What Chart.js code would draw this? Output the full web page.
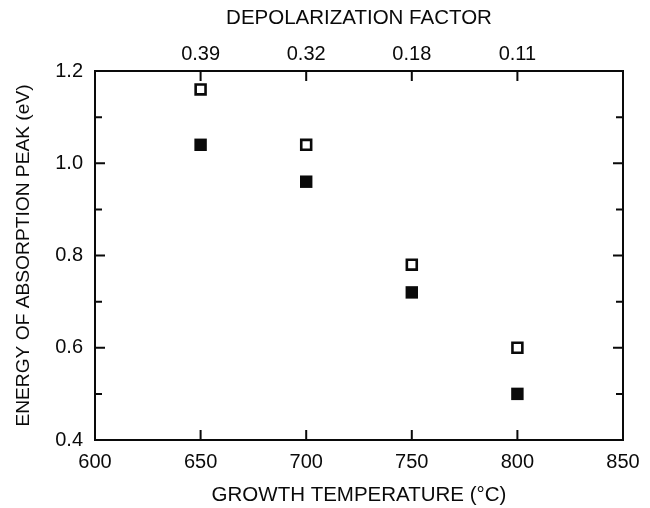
<!DOCTYPE html>
<html>
<head>
<meta charset="utf-8">
<script src="https://cdn.jsdelivr.net/npm/chart.js@4.4.1/dist/chart.umd.min.js"></script>
<style>
	body { margin: 0; background: #fff; }
	#wrap { width: 650px; height: 508px; position: relative; }
</style>
</head>
<body>
<div id="wrap"><canvas id="chart"></canvas></div>
<script>
'use strict'

// growth temperatures (°C)
const temps = [650, 700, 750, 800];
// open squares / filled squares (eV)
const openPeak = [1.16, 1.04, 0.78, 0.60];
const filledPeak = [1.04, 0.96, 0.72, 0.50];
// depolarization factor shown on top axis at each temperature
const depolLabels = ['0.39', '0.32', '0.18', '0.11'];

const fontFamily = "'Liberation Sans', Arial, Helvetica, sans-serif";
const ink = '#0a0a0a';

let toPoints = (ys) => temps.map((t, i) => ({ x: t, y: ys[i] }));

// frame + inward tick marks
let framePlugin = {
	id: 'frame',
	afterDraw: (chart) => {
		let ctx = chart.ctx;
		let area = chart.chartArea;
		let xs = chart.scales.x;
		let ys = chart.scales.y;
		ctx.save();
		ctx.strokeStyle = ink;
		ctx.lineWidth = 2;
		ctx.strokeRect(area.left, area.top, area.right - area.left, area.bottom - area.top);

		// x ticks, bottom and top
		temps.forEach((t) => {
			let px = xs.getPixelForValue(t);
			ctx.beginPath();
			ctx.moveTo(px, area.bottom);
			ctx.lineTo(px, area.bottom - 10);
			ctx.moveTo(px, area.top);
			ctx.lineTo(px, area.top + 10);
			ctx.stroke();
		});

		// y ticks, majors and minors, both sides
		let yt = ys.ticks.map((t) => t.value);
		yt.forEach((v, i) => {
			let vals = [[v, 10]];
			if (i < yt.length - 1) {
				vals.push([(v + yt[i + 1]) / 2, 7]);
			}
			vals.forEach(([val, len]) => {
				let py = ys.getPixelForValue(val);
				ctx.beginPath();
				ctx.moveTo(area.left, py);
				ctx.lineTo(area.left + len, py);
				ctx.moveTo(area.right, py);
				ctx.lineTo(area.right - len, py);
				ctx.stroke();
			});
		});
		ctx.restore();
	}
};

let tickFont = { family: fontFamily, size: 20 };
let titleFont = { family: fontFamily, size: 20.5 };

new Chart(document.getElementById('chart'), {
	type: 'scatter',
	data: {
		datasets: [
			{
				label: 'open',
				data: toPoints(openPeak),
				pointStyle: 'rect',
				pointRadius: 7,
				pointHoverRadius: 7,
				backgroundColor: '#fff',
				borderColor: ink,
				borderWidth: 2.6,
				pointHoverBorderWidth: 2.6
			},
			{
				label: 'filled',
				data: toPoints(filledPeak),
				pointStyle: 'rect',
				pointRadius: 8.8,
				pointHoverRadius: 8.8,
				backgroundColor: ink,
				borderColor: ink,
				borderWidth: 0,
				pointHoverBorderWidth: 0
			}
		]
	},
	options: {
		responsive: true,
		maintainAspectRatio: false,
		animation: false,
		events: [],
		layout: { padding: { left: 0, right: 27, top: 0, bottom: 0 } },
		plugins: {
			legend: { display: false },
			tooltip: { enabled: false }
		},
		scales: {
			x: {
				type: 'linear',
				position: 'bottom',
				min: 600,
				max: 850,
				afterFit: (scale) => { scale.height = 68; },
				grid: { display: false, drawTicks: false },
				border: { display: false },
				ticks: { stepSize: 50, padding: 10, color: ink, font: tickFont, maxRotation: 0 },
				title: {
					display: true,
					text: 'GROWTH TEMPERATURE (°C)',
					color: ink,
					font: titleFont,
					padding: { top: -2, bottom: 0 }
				}
			},
			xTop: {
				type: 'linear',
				position: 'top',
				min: 600,
				max: 850,
				afterFit: (scale) => { scale.height = 71; },
				afterBuildTicks: (scale) => {
					scale.ticks = temps.map((t) => ({ value: t }));
				},
				grid: { display: false, drawTicks: false },
				border: { display: false },
				ticks: {
					padding: 5,
					color: ink,
					font: tickFont,
					maxRotation: 0,
					callback: (val, idx) => depolLabels[idx]
				},
				title: {
					display: true,
					text: 'DEPOLARIZATION FACTOR',
					color: ink,
					font: titleFont,
					padding: { top: 6, bottom: 0 }
				}
			},
			y: {
				type: 'linear',
				min: 0.4,
				max: 1.2,
				afterFit: (scale) => { scale.width = 95; },
				grid: { display: false, drawTicks: false },
				border: { display: false },
				ticks: {
					stepSize: 0.2,
					padding: 12,
					color: ink,
					font: tickFont,
					callback: (val) => val.toFixed(1)
				},
				title: {
					display: true,
					text: 'ENERGY OF ABSORPTION PEAK (eV)',
					color: ink,
					font: { family: fontFamily, size: 19.2 },
					padding: { top: 12.5, bottom: 0 }
				}
			}
		}
	},
	plugins: [framePlugin]
});
</script>
</body>
</html>
